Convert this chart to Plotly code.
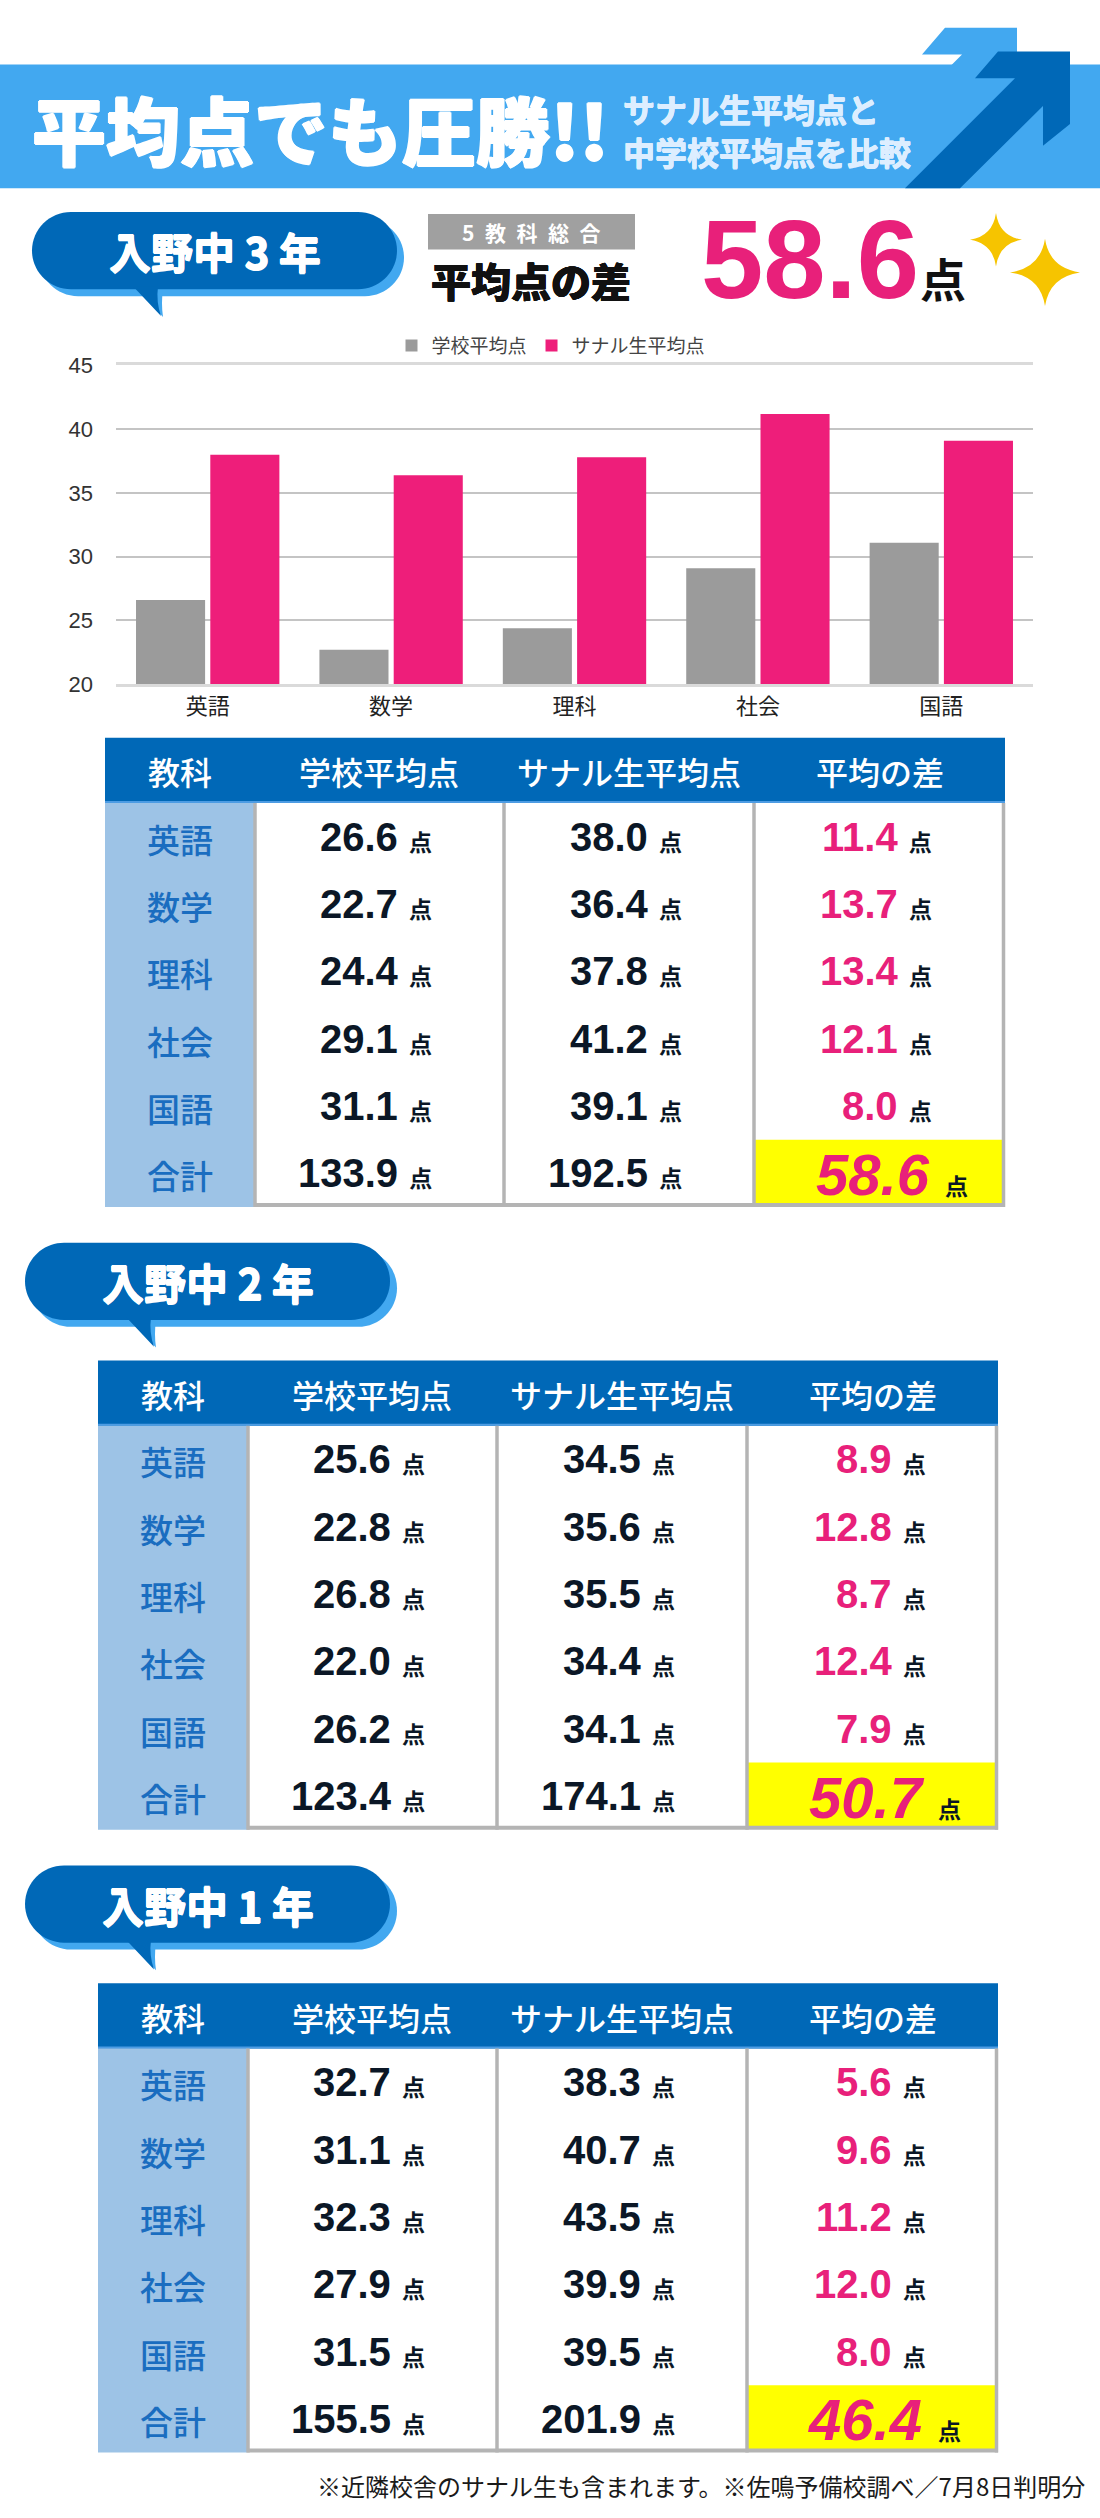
import plotly.graph_objects as go

W, H = 1100, 2518

# --- data -------------------------------------------------------------
subjects = ["英語", "数学", "理科", "社会", "国語"]
row_labels = subjects + ["合計"]
header_labels = ["教科", "学校平均点", "サナル生平均点", "平均の差"]
yticks = [20, 25, 30, 35, 40, 45]

g3_school = [26.6, 22.7, 24.4, 29.1, 31.1]
g3_sanaru = [38.0, 36.4, 37.8, 41.2, 39.1]
g3_diff = [11.4, 13.7, 13.4, 12.1, 8.0]
g3_total = [133.9, 192.5, 58.6]

g2_school = [25.6, 22.8, 26.8, 22.0, 26.2]
g2_sanaru = [34.5, 35.6, 35.5, 34.4, 34.1]
g2_diff = [8.9, 12.8, 8.7, 12.4, 7.9]
g2_total = [123.4, 174.1, 50.7]

g1_school = [32.7, 31.1, 32.3, 27.9, 31.5]
g1_sanaru = [38.3, 40.7, 43.5, 39.9, 39.5]
g1_diff = [5.6, 9.6, 11.2, 12.0, 8.0]
g1_total = [155.5, 201.9, 46.4]

# --- colours / fonts --------------------------------------------------
BAND = "#42A8F0"
BLUE = "#0068B7"
LIGHT = "#9DC3E6"
GRAY_LINE = "#B4B4B4"
PINK = "#E8207A"
NAVY = "#0B1726"
YELLOW = "#FFFF00"
GOLD = "#F6C400"
JP = "Noto Sans CJK JP"
NUM = "Liberation Sans, Noto Sans CJK JP"

shapes = []
annotations = []


# pixel (from top-left) -> paper
def fx(x):
    return x / W


def fy(y):
    return 1 - y / H


def pt(x, y):
    return f"{fx(x):.5f},{fy(y):.5f}"


def rect(x0, y0, x1, y1, color):
    shapes.append(dict(type="rect", xref="paper", yref="paper",
                       x0=fx(x0), x1=fx(x1), y0=fy(y1), y1=fy(y0),
                       fillcolor=color, line_width=0))


def hline(x0, x1, y, color, width):
    shapes.append(dict(type="line", xref="paper", yref="paper",
                       x0=fx(x0), x1=fx(x1), y0=fy(y), y1=fy(y),
                       line=dict(color=color, width=width)))


def vline(x, y0, y1, color, width):
    shapes.append(dict(type="line", xref="paper", yref="paper",
                       x0=fx(x), x1=fx(x), y0=fy(y0), y1=fy(y1),
                       line=dict(color=color, width=width)))


def poly(points, color):
    d = "M" + " L".join(pt(x, y) for x, y in points) + " Z"
    shapes.append(dict(type="path", xref="paper", yref="paper", path=d,
                       fillcolor=color, line_width=0))


def path(d, color):
    shapes.append(dict(type="path", xref="paper", yref="paper", path=d,
                       fillcolor=color, line_width=0))


def text(x, y, s, size, color, family=JP, weight="normal", xanchor="center",
         shadow="none"):
    annotations.append(dict(x=fx(x), y=fy(y), xref="paper", yref="paper",
                            text=s, showarrow=False, xanchor=xanchor,
                            yanchor="middle",
                            font=dict(size=size, color=color, family=family,
                                      weight=weight, shadow=shadow)))


def heavy(color, px=1):
    # fake a black weight by smearing the glyphs a little
    return ", ".join(f"{dx}px {dy}px 0px {color}"
                     for dx, dy in ((px, 0), (-px, 0), (0, px), (0, -px)))


def pill(x0, y0, x1, y1, color):
    r = (y1 - y0) / 2
    c = 0.5523 * r
    d = (f"M{pt(x0 + r, y0)} L{pt(x1 - r, y0)} "
         f"C{pt(x1 - r + c, y0)} {pt(x1, y0 + r - c)} {pt(x1, y0 + r)} "
         f"C{pt(x1, y0 + r + c)} {pt(x1 - r + c, y1)} {pt(x1 - r, y1)} "
         f"L{pt(x0 + r, y1)} "
         f"C{pt(x0 + r - c, y1)} {pt(x0, y0 + r + c)} {pt(x0, y0 + r)} "
         f"C{pt(x0, y0 + r - c)} {pt(x0 + r - c, y0)} {pt(x0 + r, y0)} Z")
    path(d, color)


def bubble(x0, y0, label):
    x1, y1 = x0 + 365, y0 + 78
    tx = x0 + 101
    # shadow
    pill(x0 + 7, y0 + 7, x1 + 7, y1 + 7, BAND)
    path(f"M{pt(tx + 4, y1)} L{pt(tx + 30, y1)} Q{pt(tx + 28, y1 + 14)} "
         f"{pt(tx + 30, y1 + 28)} Z", BAND)
    pill(x0, y0, x1, y1, BLUE)
    path(f"M{pt(tx, y1 - 3)} L{pt(tx + 25, y1 - 3)} Q{pt(tx + 23, y1 + 13)} "
         f"{pt(tx + 28, y1 + 27)} Z", BLUE)
    text((x0 + x1) / 2, (y0 + y1) / 2, label, 42, "white", weight="bold",
         shadow=heavy("white", 0.6))


def sparkle(cx, cy, w, h, color):
    k = 0.13
    d = (f"M{pt(cx, cy - h)} Q{pt(cx + k * w, cy - k * h)} {pt(cx + w, cy)} "
         f"Q{pt(cx + k * w, cy + k * h)} {pt(cx, cy + h)} "
         f"Q{pt(cx - k * w, cy + k * h)} {pt(cx - w, cy)} "
         f"Q{pt(cx - k * w, cy - k * h)} {pt(cx, cy - h)} Z")
    path(d, color)


def num_cell(v, big=False, pink=False):
    s = f"{v:.1f}"
    if big:
        s = f"<i>{s}</i>"
    if pink:
        s = f"<span style='color:{PINK}'>{s}</span>"
    return s + "\u00a0<span style='font-size:23px'>点</span>"


col_w = [149, 250, 250, 251]
HEAD_H = 66
ROW_H = 68


def table(x0, top, school, sanaru, diff, totals):
    cols = [x0]
    for w in col_w:
        cols.append(cols[-1] + w)
    hb = top + HEAD_H
    bottom = hb + ROW_H * len(row_labels)
    rect(cols[0], top, cols[4], hb, BLUE)
    rect(cols[0], hb, cols[1], bottom, LIGHT)
    rect(cols[3], hb + ROW_H * 5, cols[4] - 2, bottom - 3, YELLOW)
    hline(cols[0], cols[4], hb - 1, "#4D9CE3", 2)
    for cx in (cols[1] + 1, cols[2], cols[3], cols[4] - 1.5):
        vline(cx, hb, bottom, GRAY_LINE, 3.5)
    hline(cols[1], cols[4], bottom - 2, GRAY_LINE, 4)

    centers = [(cols[i] + cols[i + 1]) / 2 for i in range(4)]
    for i, lab in enumerate(header_labels):
        text(centers[i], top + HEAD_H / 2 + 1, lab, 32, "white", weight=500)

    series = [school + [totals[0]], sanaru + [totals[1]], diff + [totals[2]]]
    for r, lab in enumerate(row_labels):
        cy = hb + ROW_H / 2 + ROW_H * r
        text(centers[0], cy + 2, lab, 33, "#1A6DC0", weight=500)
        for c in range(3):
            v = series[c][r]
            if c == 2 and r == len(row_labels) - 1:
                text(centers[3] + 90, cy + 1, num_cell(v, big=True, pink=True),
                     58, NAVY, family=NUM, weight="bold", xanchor="right")
            else:
                text(centers[c + 1] + 55, cy, num_cell(v, pink=(c == 2)),
                     40, NAVY, family=NUM, weight="bold", xanchor="right")


# --- header band with arrow ------------------------------------------
arrow = [(998, 40), (1070, 40), (1070, 113), (1043, 135), (1043, 95),
         (960, 178), (905, 178), (1015, 67), (975, 67)]
poly([(x - 53, y - 24) for x, y in arrow], BAND)
rect(0, 53, W, 178, BAND)
poly(arrow, BLUE)

text(30, 117, "平均点でも圧勝!!", 74, "white", weight=900, xanchor="left",
     shadow=heavy("white", 1))
text(621, 97, "サナル生平均点と", 32, "#DDEEFF", weight="bold", xanchor="left",
     shadow=heavy("#DDEEFF", 0.5))
text(621, 140, "中学校平均点を比較", 32, "#DDEEFF", weight="bold", xanchor="left",
     shadow=heavy("#DDEEFF", 0.5))

# --- grade 3 summary -------------------------------------------------
bubble(32, 202, "入野中 3 年")
rect(428, 204, 635, 240, "#A0A0A0")
text(531, 222, "5\u2002教\u2002科\u2002総\u2002合", 21, "white", weight="bold")
text(429, 271, "平均点の差", 40, "#111111", weight=900, xanchor="left",
     shadow=heavy("#111111", 0.4))
text(699, 250, f"{g3_total[2]:.1f}", 112, PINK, family=NUM, weight="bold",
     xanchor="left")
text(943, 268, "点", 46, "#111111", weight="bold")
sparkle(996, 230, 26, 27, GOLD)
sparkle(1045, 263, 35, 34, GOLD)

# --- tables ----------------------------------------------------------
table(105, 733, g3_school, g3_sanaru, g3_diff, g3_total)
bubble(25, 1243, "入野中 2 年")
table(98, 1362, g2_school, g2_sanaru, g2_diff, g2_total)
bubble(25, 1872, "入野中 1 年")
table(98, 1991, g1_school, g1_sanaru, g1_diff, g1_total)

text(1087, 2498, "※近隣校舎のサナル生も含まれます。※佐鳴予備校調べ／7月8日判明分",
     24, "#1A1A1A", xanchor="right")

# --- bar chart -------------------------------------------------------
fig = go.Figure()
fig.add_trace(go.Bar(x=subjects, y=g3_school, name="学校平均点",
                     marker=dict(color="#9B9B9B", line_width=0)))
fig.add_trace(go.Bar(x=subjects, y=g3_sanaru, name="サナル生平均点",
                     marker=dict(color="#EE1E7A", line_width=0)))

fig.update_layout(
    width=W, height=H,
    margin=dict(l=0, r=0, t=0, b=0),
    paper_bgcolor="white",
    plot_bgcolor="white",
    barmode="group",
    bargap=0.19,
    bargroupgap=0.07,
    showlegend=True,
    legend=dict(orientation="h", x=fx(551), y=fy(337), xanchor="center",
                yanchor="middle", font=dict(family=JP, size=19, color="#444444"),
                bgcolor="rgba(0,0,0,0)"),
    xaxis=dict(domain=[fx(116), fx(1033)], showgrid=False,
               showline=True, mirror=True, linecolor="#DADADA", linewidth=3,
               tickfont=dict(family=JP, size=22, color="#222222"),
               ticklabelstandoff=0, fixedrange=True),
    yaxis=dict(domain=[fy(679), fy(357)], range=[20, 45], tickvals=yticks,
               showgrid=True, gridcolor="#C4C4C4", gridwidth=1.5,
               zeroline=False, showline=False,
               tickfont=dict(family="Liberation Sans", size=22, color="#333333"),
               ticklabelstandoff=22, fixedrange=True),
    shapes=shapes,
    annotations=annotations,
)

# drop the page's default body margin so the figure sits at the top-left
fig.write_html("out.html", config={"displayModeBar": False},
               post_script="document.body.style.margin='0';"
                           "document.body.style.overflow='hidden';")
